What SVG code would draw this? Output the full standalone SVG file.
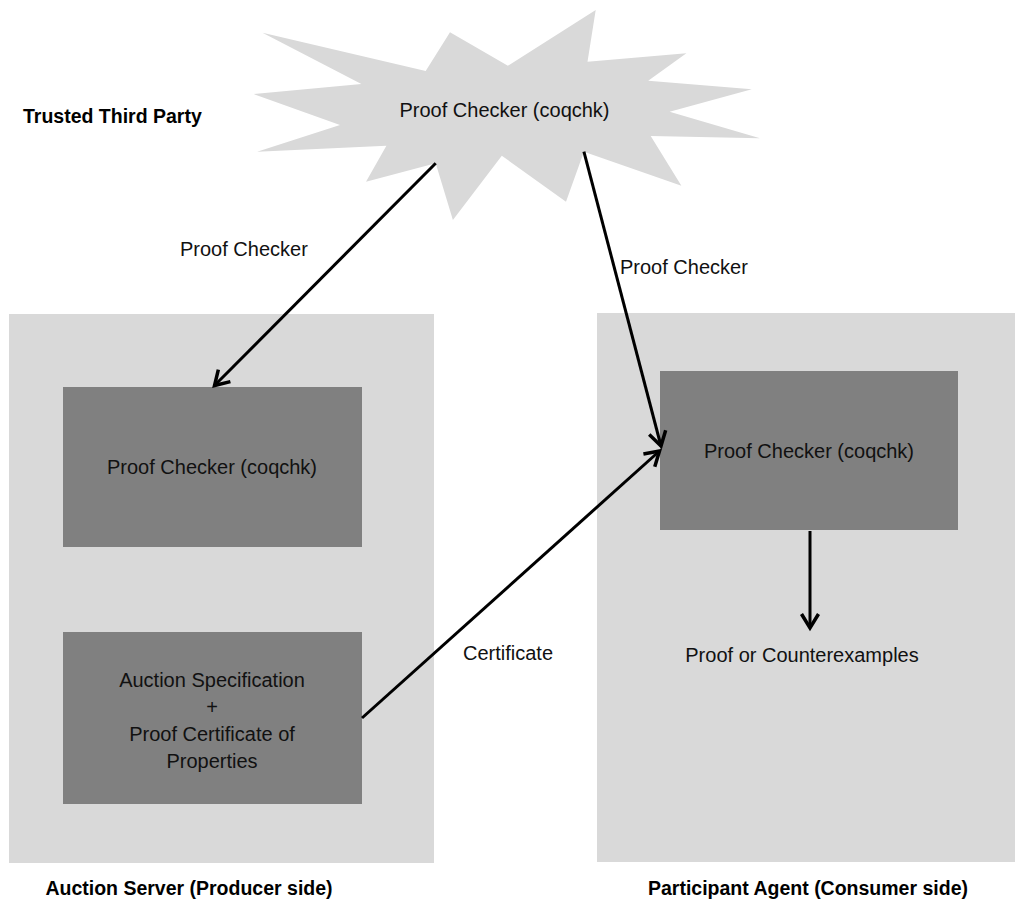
<svg xmlns="http://www.w3.org/2000/svg" width="1015" height="917" viewBox="0 0 1015 917">
  <style>
    .lt { fill: #d9d9d9; }
    .dk { fill: #808080; }
    .t { font-family: "Liberation Sans", Arial, sans-serif; font-size: 20px; fill: #111; }
    .b { font-family: "Liberation Sans", Arial, sans-serif; font-size: 19.5px; font-weight: bold; fill: #000; }
    .c { text-anchor: middle; }
    .ln { stroke: #000; stroke-width: 3; fill: none; }
  </style>
  <defs>
    <marker id="ah" markerUnits="userSpaceOnUse" orient="auto" refX="0" refY="0" markerWidth="30" markerHeight="30" overflow="visible">
      <path d="M-14,-8.5 L0,0 L-14,8.5" fill="none" stroke="#000" stroke-width="3.5" stroke-linejoin="miter" stroke-linecap="butt"/>
    </marker>
  </defs>
  <rect width="1015" height="917" fill="#fff"/>

  <g id="producer">
    <rect class="lt" x="9" y="314" width="425" height="549"/>
  </g>
  <g id="consumer">
    <rect class="lt" x="597" y="313" width="418" height="549"/>
  </g>

  <g id="ttp-checker">
    <polygon class="lt" points="262.5,32.7 425.7,71 450,32.3 507.9,65.7 595.7,10 587.5,61.7 686.4,53.3 648.2,80.7 751.8,89.3 669.6,111.7 760,138.3 650.7,136 681.4,185.7 583.9,151.7 566,201.7 501.8,155.7 452.9,220 435.7,163.3 366,181.7 386.4,145.7 257.1,151.7 340,125 253.6,94 361.4,84"/>
    <text class="t c" x="504.5" y="117">Proof Checker (coqchk)</text>
  </g>

  <g id="producer-checker">
    <rect class="dk" x="63" y="387" width="299" height="160"/>
    <text class="t c" x="212" y="474">Proof Checker (coqchk)</text>
  </g>

  <g id="auction-spec">
    <rect class="dk" x="63" y="632" width="299" height="172"/>
    <text class="t c" x="212" y="687">Auction Specification</text>
    <text class="t c" x="212" y="714">+</text>
    <text class="t c" x="212" y="741">Proof Certificate of</text>
    <text class="t c" x="212" y="768">Properties</text>
  </g>

  <g id="consumer-checker">
    <rect class="dk" x="660" y="371" width="298" height="159"/>
    <text class="t c" x="809" y="458">Proof Checker (coqchk)</text>
  </g>

  <g id="result">
    <text class="t c" x="802" y="662">Proof or Counterexamples</text>
  </g>

  <g id="labels">
    <text class="b" x="23" y="123">Trusted Third Party</text>
    <text class="b c" x="189" y="895">Auction Server (Producer side)</text>
    <text class="b c" x="808" y="895">Participant Agent (Consumer side)</text>
  </g>

  <g id="connectors">
    <line class="ln" x1="435.7" y1="163.3" x2="214.5" y2="385.5" marker-end="url(#ah)"/>
    <line class="ln" x1="583.9" y1="151.7" x2="661" y2="446" marker-end="url(#ah)"/>
    <line class="ln" x1="362" y1="718" x2="659.5" y2="451" marker-end="url(#ah)"/>
    <line class="ln" x1="810" y1="531" x2="810" y2="628" marker-end="url(#ah)"/>
    <text class="t" x="180" y="256">Proof Checker</text>
    <text class="t" x="620" y="274">Proof Checker</text>
    <text class="t" x="463" y="660">Certificate</text>
  </g>
</svg>
